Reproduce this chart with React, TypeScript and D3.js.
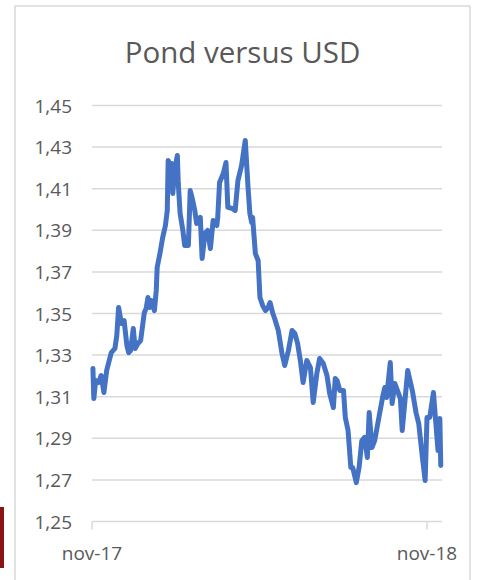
import React from 'react';
import { scaleLinear, scaleTime, line, timeParse, format } from 'd3';

const width = 478;
const height = 580;

const title = 'Pond versus USD';

const dates = [
  '2017-11-02', '2017-11-03', '2017-11-05', '2017-11-08', '2017-11-11', '2017-11-14',
  '2017-11-17', '2017-11-22', '2017-11-26', '2017-11-28', '2017-11-30', '2017-12-03',
  '2017-12-06', '2017-12-09', '2017-12-11', '2017-12-13', '2017-12-16', '2017-12-18',
  '2017-12-21', '2017-12-24', '2017-12-28', '2017-12-30', '2018-01-01', '2018-01-03',
  '2018-01-05', '2018-01-08', '2018-01-10', '2018-01-11', '2018-01-14', '2018-01-17',
  '2018-01-20', '2018-01-22', '2018-01-23', '2018-01-25', '2018-01-27', '2018-01-28',
  '2018-01-30', '2018-02-02', '2018-02-03', '2018-02-05', '2018-02-08', '2018-02-10',
  '2018-02-14', '2018-02-16', '2018-02-18', '2018-02-21', '2018-02-23', '2018-02-27',
  '2018-03-01', '2018-03-04', '2018-03-07', '2018-03-10', '2018-03-13', '2018-03-17',
  '2018-03-18', '2018-03-20', '2018-03-24', '2018-03-27', '2018-03-29', '2018-04-03',
  '2018-04-06', '2018-04-09', '2018-04-13', '2018-04-17', '2018-04-20', '2018-04-22',
  '2018-04-24', '2018-04-25', '2018-04-28', '2018-05-01', '2018-05-03', '2018-05-06',
  '2018-05-09', '2018-05-12', '2018-05-14', '2018-05-17', '2018-05-19', '2018-05-23',
  '2018-05-27', '2018-05-30', '2018-06-03', '2018-06-07', '2018-06-10', '2018-06-13',
  '2018-06-16', '2018-06-19', '2018-06-23', '2018-06-27', '2018-06-30', '2018-07-04',
  '2018-07-07', '2018-07-11', '2018-07-15', '2018-07-18', '2018-07-22', '2018-07-24',
  '2018-07-26', '2018-07-29', '2018-08-02', '2018-08-04', '2018-08-07', '2018-08-10',
  '2018-08-12', '2018-08-16', '2018-08-19', '2018-08-22', '2018-08-25', '2018-08-28',
  '2018-08-30', '2018-09-02', '2018-09-05', '2018-09-10', '2018-09-14', '2018-09-16',
  '2018-09-18', '2018-09-22', '2018-09-24', '2018-09-27', '2018-10-03', '2018-10-05',
  '2018-10-08', '2018-10-11', '2018-10-16', '2018-10-20', '2018-10-23', '2018-10-27',
  '2018-10-30', '2018-11-01', '2018-11-04', '2018-11-08', '2018-11-11', '2018-11-13',
  '2018-11-15', '2018-11-16',
];

const rates = [
  1.3236, 1.3091, 1.3178, 1.3168, 1.3202, 1.312,
  1.3226, 1.3312, 1.3332, 1.3394, 1.3529, 1.3452,
  1.3466, 1.3346, 1.3312, 1.3322, 1.3428, 1.3332,
  1.3356, 1.337, 1.3505, 1.3524, 1.3577, 1.3529,
  1.3562, 1.3514, 1.3611, 1.3721, 1.3788, 1.3865,
  1.3923, 1.3995, 1.4236, 1.4212, 1.4221, 1.4077,
  1.4188, 1.426, 1.4125, 1.3981, 1.3899, 1.3827,
  1.3827, 1.4091, 1.4058, 1.3995, 1.3933, 1.3962,
  1.3764, 1.3885, 1.3899, 1.3812, 1.3947, 1.3923,
  1.3962, 1.413, 1.4173, 1.4226, 1.401, 1.4005,
  1.3995, 1.4139, 1.4212, 1.4332, 1.4106, 1.3981,
  1.3937, 1.3962, 1.3788, 1.3755, 1.3577, 1.3538,
  1.3514, 1.3529, 1.3553, 1.35, 1.3476, 1.3418,
  1.3308, 1.325, 1.3322, 1.3418, 1.3404, 1.3356,
  1.3274, 1.3168, 1.3274, 1.324, 1.3072, 1.3212,
  1.3284, 1.326, 1.3202, 1.3115, 1.3048, 1.3187,
  1.3178, 1.313, 1.313, 1.3, 1.2937, 1.276,
  1.276, 1.2687, 1.276, 1.2889, 1.2904, 1.2808,
  1.3024, 1.2856, 1.2889, 1.301, 1.3106, 1.3144,
  1.3096, 1.3264, 1.3067, 1.3163, 1.3091, 1.2937,
  1.3082, 1.3226, 1.313, 1.3024, 1.2971, 1.2808,
  1.2697, 1.3, 1.3, 1.312, 1.2952, 1.2841,
  1.2995, 1.2769,
];

const yTicks = [1.25, 1.27, 1.29, 1.31, 1.33, 1.35, 1.37, 1.39, 1.41, 1.43, 1.45];
const xTickDates = ['2017-11-01', '2018-11-01'];
const xTickLabels = ['nov-17', 'nov-18'];

const parseDate = timeParse('%Y-%m-%d');
const fmt = (v: number) => format('.2f')(v).replace('.', ',');

const plot = { left: 92, right: 442, top: 105.5, bottom: 521.5 };
const font = '"Open Sans", "Noto Sans", sans-serif';
const textColor = '#595959';

export default function App() {
  const data = dates.map((d, i) => ({ date: parseDate(d) as Date, value: rates[i] }));

  const xScale = scaleTime()
    .domain([parseDate(xTickDates[0]) as Date, parseDate(xTickDates[1]) as Date])
    .range([92, 427]);

  const yScale = scaleLinear().domain([1.25, 1.45]).range([plot.bottom, plot.top]);

  const path = line<{ date: Date; value: number }>()
    .x((d) => xScale(d.date))
    .y((d) => yScale(d.value))(data);

  return (
    <svg
      width={width}
      height={height}
      style={{ position: 'absolute', left: 0, top: 0, background: '#fff' }}
    >
      <rect x={0} y={507} width={4} height={61} fill="#8a1414" />
      <rect x={15} y={6} width={455} height={590} fill="#fff" stroke="#d9d9d9" strokeWidth={1.5} />
      <text
        x={242.5}
        y={63}
        textAnchor="middle"
        fontFamily={font}
        fontSize={29.5}
        fill={textColor}
      >
        {title}
      </text>

      {yTicks.map((t) => (
        <g key={t}>
          <line
            x1={plot.left}
            x2={plot.right}
            y1={yScale(t)}
            y2={yScale(t)}
            stroke="#d9d9d9"
            strokeWidth={1.5}
          />
          <text
            x={72}
            y={yScale(t) + 7}
            textAnchor="end"
            fontFamily={font}
            fontSize={19}
            fill={textColor}
          >
            {fmt(t)}
          </text>
        </g>
      ))}

      {xTickDates.map((d, i) => {
        const x = xScale(parseDate(d) as Date);
        return (
          <g key={d}>
            <line x1={x} x2={x} y1={plot.bottom} y2={plot.bottom + 8} stroke="#d9d9d9" strokeWidth={1.5} />
            <text
              x={x}
              y={560}
              textAnchor="middle"
              fontFamily={font}
              fontSize={19}
              fill={textColor}
            >
              {xTickLabels[i]}
            </text>
          </g>
        );
      })}

      <path
        d={path ?? ''}
        fill="none"
        stroke="#4472c4"
        strokeWidth={5}
        strokeLinejoin="round"
        strokeLinecap="round"
      />
    </svg>
  );
}
